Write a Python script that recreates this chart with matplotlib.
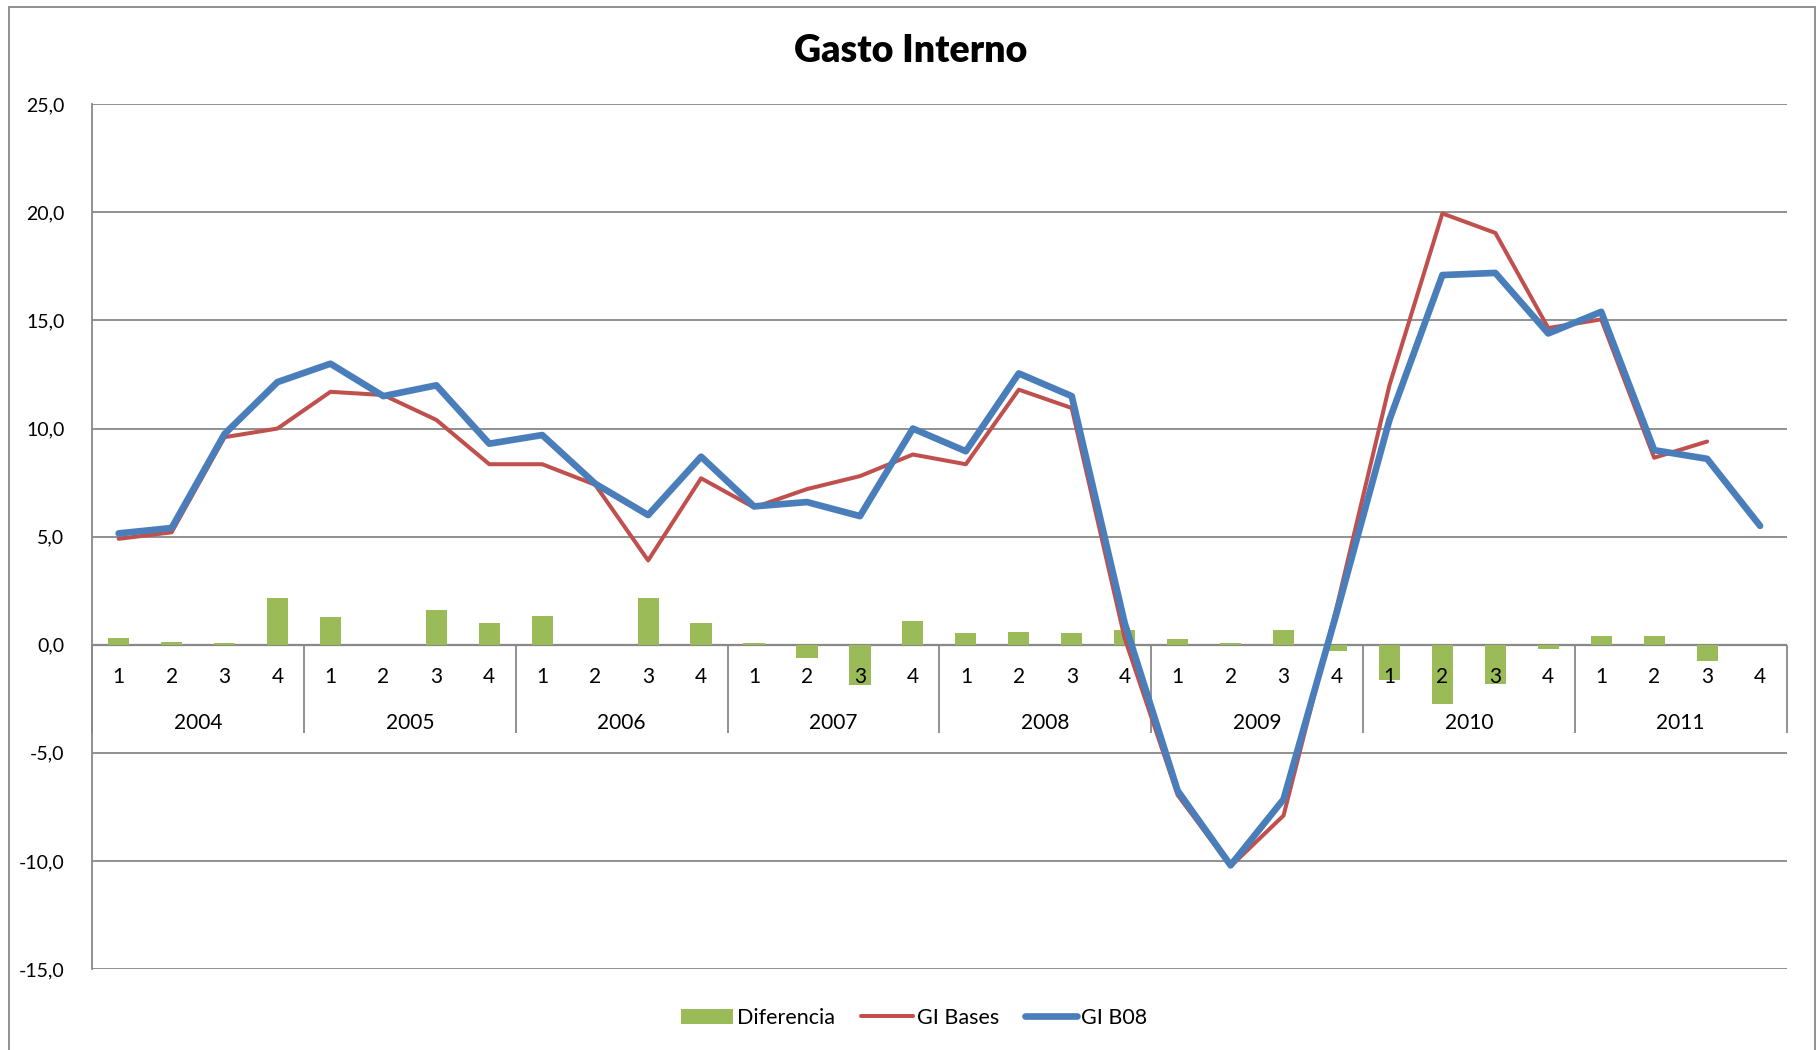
import numpy as np
import matplotlib
matplotlib.use("Agg")
import matplotlib.pyplot as plt
from matplotlib.ticker import FuncFormatter
from matplotlib.patches import Rectangle

plt.rcParams['font.family'] = ['Lato', 'DejaVu Sans']

years = ['2004', '2005', '2006', '2007', '2008', '2009', '2010', '2011']
quarters = ['1', '2', '3', '4']

diferencia = [0.3, 0.15, 0.1, 2.15, 1.3, 0.0, 1.6, 1.0,
              1.35, 0.0, 2.15, 1.0, 0.1, -0.6, -1.85, 1.1,
              0.55, 0.6, 0.55, 0.7, 0.25, 0.1, 0.7, -0.3,
              -1.65, -2.75, -1.8, -0.2, 0.4, 0.4, -0.75, np.nan]
gi_bases = [4.9, 5.2, 9.6, 10.0, 11.7, 11.55, 10.4, 8.35,
            8.35, 7.4, 3.9, 7.7, 6.35, 7.2, 7.8, 8.8,
            8.35, 11.8, 10.95, 0.3, -6.95, -10.25, -7.9, 1.7,
            12.0, 19.95, 19.05, 14.65, 15.05, 8.65, 9.4, np.nan]
gi_b08 = [5.15, 5.4, 9.75, 12.15, 13.0, 11.5, 12.0, 9.3,
          9.7, 7.45, 6.0, 8.7, 6.4, 6.6, 5.95, 10.0,
          8.95, 12.55, 11.5, 1.0, -6.75, -10.2, -7.15, 1.45,
          10.4, 17.1, 17.2, 14.4, 15.4, 9.0, 8.6, 5.5]

GREEN = '#9BBB59'
RED = '#C0504D'
BLUE = '#4A7EBB'
GRID = '#888888'

fig = plt.figure(figsize=(18.18, 10.5), dpi=100)
ax = fig.add_axes([0.0507, 0.0771, 0.932, 0.8236])

x = np.arange(len(gi_b08))
bars = ax.bar(x, diferencia, width=0.4, color=GREEN, label='Diferencia', zorder=2)
l_red, = ax.plot(x, gi_bases, color=RED, lw=2.9, label='GI Bases', zorder=4,
                 solid_joinstyle='round', solid_capstyle='round')
l_blue, = ax.plot(x, gi_b08, color=BLUE, lw=4.8, label='GI B08', zorder=5,
                  solid_joinstyle='round', solid_capstyle='round')

ax.set_xlim(-0.5, len(x) - 0.5)
ax.set_ylim(-15, 25)
ax.set_yticks(np.arange(-15, 26, 5))
ax.yaxis.set_major_formatter(FuncFormatter(lambda v, p: f'{v:.1f}'.replace('.', ',')))
ax.tick_params(axis='y', length=0, pad=20, labelsize=14)
ax.set_xticks([])
ax.grid(axis='y', color=GRID, lw=1.3, zorder=0)
ax.set_axisbelow(True)
for s in ['top', 'right', 'bottom']:
    ax.spines[s].set_visible(False)
ax.spines['left'].set_color(GRID)
ax.spines['left'].set_linewidth(1.3)

# category axis crossing at zero
ax.axhline(0, color=GRID, lw=1.6, zorder=1)
for i in range(len(x)):
    ax.text(x[i], -1.5, quarters[i % 4], ha='center', va='center',
            fontsize=15, zorder=3)
for j, yr in enumerate(years):
    ax.text(4 * j + 1.5, -3.6, yr, ha='center', va='center', fontsize=15, zorder=3)
for j in range(len(years) + 1):
    ax.plot([4 * j - 0.5, 4 * j - 0.5], [0, -4.07], color=GRID, lw=1.3,
            zorder=3, solid_capstyle='butt', clip_on=False)

fig.text(0.501, 0.951, 'Gasto Interno', ha='center', va='center',
         fontsize=27, fontweight='heavy')

fig.legend(handles=[bars, l_red, l_blue], loc='center',
           bbox_to_anchor=(0.503, 0.0305), ncol=3, frameon=False,
           fontsize=15.5, handlelength=2.4, handletextpad=0.2, columnspacing=1.2)

fig.add_artist(Rectangle((9 / 1818, -0.1), (1815 - 9) / 1818, 1.1 - 7 / 1050,
                         transform=fig.transFigure, fill=False,
                         edgecolor=GRID, lw=1.3))

fig.savefig('out.png', dpi=100)
